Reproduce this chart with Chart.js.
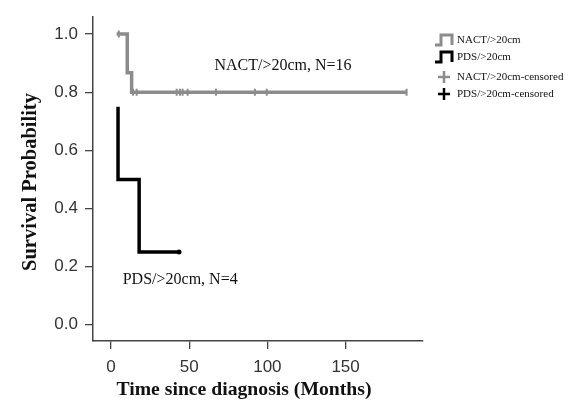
<!DOCTYPE html>
<html>
<head>
<meta charset="utf-8">
<script src="https://cdn.jsdelivr.net/npm/chart.js@4/dist/chart.umd.min.js"></script>
<style>
  html, body { margin: 0; padding: 0; background: #fff; }
  #wrap { width: 577px; height: 403px; position: relative; }
</style>
</head>
<body>
<div id="wrap"><canvas id="km"></canvas></div>
<script>
// Kaplan-Meier curves (months, survival probability)
const nactTimes = [3.6, 10.4, 13.2, 189];
const nactSurv = [1.0, 0.867, 0.8, 0.8];
const nactCensorTimes = [5, 14.1, 16.4, 42, 44.1, 45.8, 49, 67.1, 92, 99.6, 189];
const nactCensorSurv = [1.0, 0.8, 0.8, 0.8, 0.8, 0.8, 0.8, 0.8, 0.8, 0.8, 0.8];

const pdsTimes = [4.5, 4.5, 18, 43.5];
const pdsSurv = [0.75, 0.5, 0.25, 0.25];
const pdsCensorTimes = [43.5];
const pdsCensorSurv = [0.25];

const xTicks = [0, 50, 100, 150];
const yTicks = [0, 0.2, 0.4, 0.6, 0.8, 1.0];

const legendLabels = ['NACT/>20cm', 'PDS/>20cm', 'NACT/>20cm-censored', 'PDS/>20cm-censored'];
const curveLabels = ['NACT/>20cm, N=16', 'PDS/>20cm, N=4'];
const xTitle = 'Time since diagnosis (Months)';
const yTitle = 'Survival Probability';

const GRAY = '#8c8c8c';
const BLACK = '#000000';

const pts = (xs, ys) => xs.map((x, i) => ({ x: x, y: ys[i] }));

// texts on the plot, axis titles and the legend box on the right
const extras = {
  id: 'extras',
  afterDraw(chart) {
    const { ctx, scales: { x, y } } = chart;
    ctx.save();
    ctx.fillStyle = '#111';
    ctx.font = '16px "Liberation Serif", "Times New Roman", serif';
    ctx.textBaseline = 'middle';
    ctx.textAlign = 'center';
    ctx.fillText(curveLabels[0], x.getPixelForValue(110), y.getPixelForValue(0.892));
    ctx.textAlign = 'left';
    ctx.fillText(curveLabels[1], x.getPixelForValue(7.5), y.getPixelForValue(0.153));

    // axis titles
    ctx.textAlign = 'center';
    ctx.font = 'bold 19.7px "Liberation Serif", "Times New Roman", serif';
    ctx.fillText(xTitle, 244, 390);
    ctx.save();
    ctx.translate(31, 182);
    ctx.rotate(-Math.PI / 2);
    ctx.font = 'bold 20.5px "Liberation Serif", "Times New Roman", serif';
    ctx.fillText(yTitle, 0, 0);
    ctx.restore();

    // legend
    const rows = [40, 57, 77, 94];
    const colors = [GRAY, BLACK, GRAY, BLACK];
    for (let i = 0; i < 4; i++) {
      const cy = rows[i];
      ctx.strokeStyle = colors[i];
      ctx.beginPath();
      if (i < 2) {
        ctx.lineWidth = 3;
        ctx.moveTo(435, cy + 5);
        ctx.lineTo(441, cy + 5);
        ctx.lineTo(441, cy - 5);
        ctx.lineTo(452, cy - 5);
        ctx.lineTo(452, cy + 5);
      } else {
        ctx.lineWidth = 2.5;
        ctx.moveTo(438, cy);
        ctx.lineTo(450, cy);
        ctx.moveTo(444, cy - 6);
        ctx.lineTo(444, cy + 6);
      }
      ctx.stroke();
      ctx.fillStyle = '#111';
      ctx.font = '11px "Liberation Serif", "Times New Roman", serif';
      ctx.textAlign = 'left';
      ctx.fillText(legendLabels[i], 457, cy);
    }
    ctx.restore();
  }
};

new Chart(document.getElementById('km'), {
  type: 'line',
  data: {
    datasets: [
      {
        label: 'NACT/>20cm',
        data: pts(nactTimes, nactSurv),
        stepped: 'before',
        borderColor: GRAY,
        borderWidth: 3.5,
        pointRadius: 0,
        fill: false
      },
      {
        label: 'PDS/>20cm',
        data: pts(pdsTimes, pdsSurv),
        stepped: 'before',
        borderColor: BLACK,
        borderWidth: 3.5,
        pointRadius: 0,
        fill: false
      },
      {
        label: 'NACT/>20cm-censored',
        type: 'scatter',
        data: pts(nactCensorTimes, nactCensorSurv),
        pointStyle: 'line',
        rotation: 90,
        pointRadius: 3.5,
        borderColor: GRAY,
        backgroundColor: GRAY,
        pointBorderWidth: 2
      },
      {
        label: 'PDS/>20cm-censored',
        type: 'scatter',
        data: pts(pdsCensorTimes, pdsCensorSurv),
        pointStyle: 'circle',
        pointRadius: 2.5,
        borderColor: BLACK,
        backgroundColor: BLACK,
        pointBorderWidth: 0
      }
    ]
  },
  options: {
    responsive: true,
    maintainAspectRatio: false,
    animation: false,
    devicePixelRatio: 1,
    layout: { padding: { left: 0, right: 154, top: 7, bottom: 0 } },
    plugins: { legend: { display: false }, tooltip: { enabled: false } },
    scales: {
      x: {
        type: 'linear',
        min: -11.5,
        max: 199.5,
        afterFit: s => { s.height = 62; },
        afterBuildTicks: s => { s.ticks = xTicks.map(v => ({ value: v })); },
        grid: { drawOnChartArea: false, drawTicks: true, tickLength: 8, tickColor: '#444', lineWidth: 1.3 },
        border: { display: true, color: '#444', width: 1.5 },
        ticks: {
          color: '#333',
          padding: 8,
          maxRotation: 0,
          font: { family: '"Liberation Sans", Arial, sans-serif', size: 17 }
        }
      },
      y: {
        type: 'linear',
        min: -0.056,
        max: 1.058,
        afterFit: s => { s.width = 93; },
        afterBuildTicks: s => { s.ticks = yTicks.map(v => ({ value: v })); },
        grid: { drawOnChartArea: false, drawTicks: true, tickLength: 8, tickColor: '#444', lineWidth: 1.3 },
        border: { display: true, color: '#444', width: 1.5 },
        ticks: {
          color: '#333',
          padding: 7,
          callback: v => v.toFixed(1),
          font: { family: '"Liberation Sans", Arial, sans-serif', size: 17 }
        }
      }
    }
  },
  plugins: [extras]
});
</script>
</body>
</html>
